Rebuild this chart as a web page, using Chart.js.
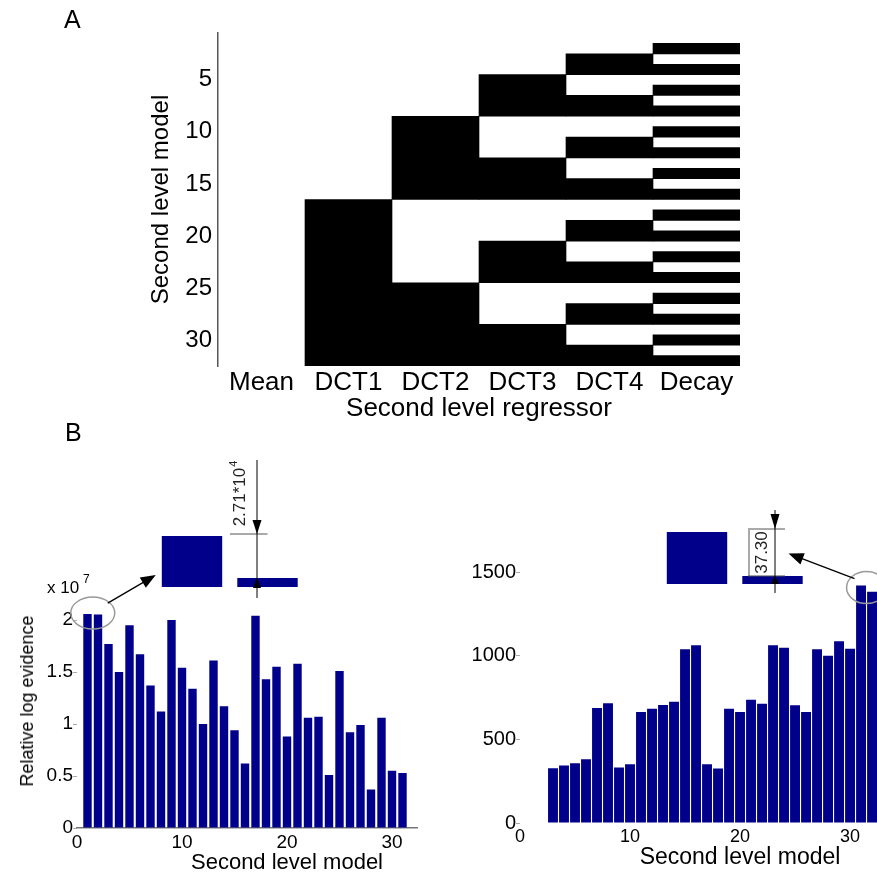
<!DOCTYPE html>
<html>
<head>
<meta charset="utf-8">
<script src="https://cdn.jsdelivr.net/npm/chart.js@4.4.1/dist/chart.umd.min.js"></script>
<style>
  html, body { margin: 0; padding: 0; background: #fff; overflow: hidden; }
  #page { position: relative; width: 877px; height: 872px; font-family: 'Liberation Sans', Arial, sans-serif; color: #000; }
  canvas { position: absolute; }
  .txt { position: absolute; white-space: nowrap; line-height: 1; }
  .rot { transform: translate(-50%, -50%) rotate(-90deg); }
  .mid { transform: translate(-50%, -50%); }
</style>
</head>
<body>
<div id="page">
  <canvas id="matrixChart" width="877" height="424" style="left:0;top:0"></canvas>
  <canvas id="leftChart" width="440" height="432" style="left:0;top:440px"></canvas>
  <canvas id="rightChart" width="437" height="432" style="left:440px;top:440px"></canvas>
  <canvas id="leftInset" width="180" height="155" style="left:140px;top:450px"></canvas>
  <canvas id="rightInset" width="237" height="115" style="left:640px;top:490px"></canvas>

  <div class="txt" style="left:64px;top:7px;font-size:25px">A</div>
  <div class="txt" style="left:65px;top:420px;font-size:25px">B</div>
  <div class="txt" style="left:47px;top:579px;font-size:17px">x 10</div>
  <div class="txt" style="left:83px;top:573px;font-size:12px">7</div>
  <div class="txt rot" style="left:27px;top:701px;font-size:18px">Relative log evidence</div>
  <div class="txt mid" style="left:287px;top:862px;font-size:22px">Second level model</div>
  <div class="txt mid" style="left:740px;top:856px;font-size:23px">Second level model</div>
</div>
<script>
Chart.defaults.font.family = "'Liberation Sans', Arial, sans-serif";
Chart.defaults.color = '#000';

// panel A: which regressors each second level model contains (1 = black)
const regressorNames = ['Mean', 'DCT1', 'DCT2', 'DCT3', 'DCT4', 'Decay'];
const designMatrix = [
  '000000', '000001', '000010', '000011', '000100', '000101', '000110', '000111',
  '001000', '001001', '001010', '001011', '001100', '001101', '001110', '001111',
  '010000', '010001', '010010', '010011', '010100', '010101', '010110', '010111',
  '011000', '011001', '011010', '011011', '011100', '011101', '011110', '011111'
];
const modelTicks = [5, 10, 15, 20, 25, 30];

// panel B, left: relative log evidence (x 10^7), models 1..31
const leftEvidence = [2.057, 2.054, 1.77, 1.50, 1.95, 1.67, 1.37, 1.12, 2.00, 1.54,
  1.34, 1.00, 1.61, 1.17, 0.94, 0.62, 2.04, 1.43, 1.55, 0.88,
  1.58, 1.06, 1.07, 0.51, 1.51, 0.92, 0.99, 0.37, 1.06, 0.55, 0.53];
const evidenceTicks = [0, 0.5, 1, 1.5, 2];
const modelAxisTicks = [0, 10, 20, 30];

// panel B, right: models 3..32
const rightFirstModel = 3;
const rightEvidence = [327, 343, 357, 381, 688, 716, 331, 351, 663, 683,
  706, 724, 1038, 1062, 351, 325, 683, 663, 736, 712,
  1062, 1048, 704, 663, 1038, 1000, 1087, 1042, 1419, 1381.7];
const rightEvidenceTicks = [0, 500, 1000, 1500];

// zoomed insets (two best models)
const leftInsetBars = [20571000, 20543900];
const leftInsetRange = [20538100, 20571000];
const rightInsetBars = [1419.0, 1381.7];
const rightInsetRange = [1374.9, 1419.0];

const BAR_BLUE = '#00008b';
const plainLabel = v => String(v);

function baseOptions() {
  return {
    responsive: false,
    animation: false,
    devicePixelRatio: 1,
    plugins: { legend: { display: false }, tooltip: { enabled: false } }
  };
}

function drawHead(ctx, x, y, a, len, halfW) {
  ctx.beginPath();
  ctx.moveTo(x, y);
  ctx.lineTo(x - len * Math.cos(a) + halfW * Math.sin(a), y - len * Math.sin(a) - halfW * Math.cos(a));
  ctx.lineTo(x - len * Math.cos(a) - halfW * Math.sin(a), y - len * Math.sin(a) + halfW * Math.cos(a));
  ctx.closePath();
  ctx.fill();
}

function drawArrow(ctx, x0, y0, x1, y1, len, halfW) {
  const a = Math.atan2(y1 - y0, x1 - x0);
  ctx.beginPath();
  ctx.moveTo(x0, y0);
  ctx.lineTo(x1 - (len - 2) * Math.cos(a), y1 - (len - 2) * Math.sin(a));
  ctx.stroke();
  drawHead(ctx, x1, y1, a, len, halfW);
}

function line(ctx, x0, y0, x1, y1) {
  ctx.beginPath();
  ctx.moveTo(x0, y0);
  ctx.lineTo(x1, y1);
  ctx.stroke();
}

// ---- panel A: design matrix as floating bars, one per run of black cells
const cells = [];
regressorNames.forEach((name, c) => {
  let start = null;
  designMatrix.forEach((row, r) => {
    const on = row[c] === '1';
    if (on && start === null) start = r + 1;
    if (start !== null && (!on || r === designMatrix.length - 1)) {
      const end = on ? r + 1 : r;
      cells.push({ x: name, y: [start - 0.5, end + 0.5] });
      start = null;
    }
  });
});

new Chart(document.getElementById('matrixChart'), {
  type: 'bar',
  data: {
    labels: regressorNames,
    datasets: [{ data: cells, backgroundColor: '#000', borderWidth: 0, barPercentage: 1, categoryPercentage: 1 }]
  },
  options: Object.assign(baseOptions(), {
    layout: { autoPadding: false, padding: { left: 0, top: 33, right: 137, bottom: 0 } },
    scales: {
      x: {
        type: 'category', offset: true,
        grid: { display: false, drawTicks: false },
        border: { display: false },
        ticks: { font: { size: 26 }, padding: 1, autoSkip: false, maxRotation: 0, minRotation: 0 },
        title: { display: true, text: 'Second level regressor', font: { size: 26 }, padding: 0 },
        afterFit: s => { s.height = 58; }
      },
      y: {
        type: 'linear', reverse: true, min: 0.5, max: 32.5,
        grid: { display: false, drawTicks: false },
        border: { display: true, color: '#555', width: 1.5 },
        afterBuildTicks: s => { s.ticks = modelTicks.map(v => ({ value: v })); },
        ticks: { font: { size: 24 }, padding: 6, callback: plainLabel },
        title: { display: true, text: 'Second level model', font: { size: 24 }, padding: { top: 146.6, bottom: 0 } },
        afterFit: s => { s.width = 218; }
      }
    }
  })
});

// ---- panel B left
const leftData = leftEvidence.map((v, i) => ({ x: i + 1, y: v }));

new Chart(document.getElementById('leftChart'), {
  type: 'bar',
  data: { datasets: [{ data: leftData, backgroundColor: BAR_BLUE, borderWidth: 0, barPercentage: 0.8, categoryPercentage: 1 }] },
  options: Object.assign(baseOptions(), {
    layout: { autoPadding: false, padding: { left: 0, top: 164.4, right: 22.8, bottom: 0 } },
    scales: {
      x: {
        type: 'linear', min: 0, max: 32.4, offset: false,
        grid: { display: false, drawTicks: false, offset: false },
        border: { display: true, color: '#777', width: 1.5 },
        afterBuildTicks: s => { s.ticks = modelAxisTicks.map(v => ({ value: v })); },
        ticks: { font: { size: 19 }, padding: 3, maxRotation: 0, autoSkip: false, callback: plainLabel },
        afterFit: s => { s.height = 44; }
      },
      y: {
        min: 0, max: 2.15,
        grid: { display: true, drawOnChartArea: false, drawTicks: true, tickLength: 4, color: '#aaa' },
        border: { display: false },
        afterBuildTicks: s => { s.ticks = evidenceTicks.map(v => ({ value: v })); },
        ticks: { font: { size: 19 }, padding: 0, callback: plainLabel },
        afterFit: s => { s.width = 77; }
      }
    }
  }),
  plugins: [{
    id: 'leftMarker',
    afterDraw(chart) {
      const ctx = chart.ctx, xs = chart.scales.x, ys = chart.scales.y;
      const cx = (xs.getPixelForValue(1) + xs.getPixelForValue(2)) / 2;
      const cy = ys.getPixelForValue(leftEvidence[0]) - 1;
      ctx.save();
      ctx.strokeStyle = '#999';
      ctx.lineWidth = 1.5;
      ctx.beginPath();
      ctx.ellipse(cx, cy, 22, 16, 0, 0, Math.PI * 2);
      ctx.stroke();
      ctx.strokeStyle = '#000';
      ctx.fillStyle = '#000';
      ctx.lineWidth = 1.3;
      drawArrow(ctx, cx + 15, cy - 10, cx + 63, cy - 38, 15, 6);
      ctx.restore();
    }
  }]
});

// ---- panel B right
const rightData = rightEvidence.map((v, i) => ({ x: rightFirstModel + i, y: v }));

new Chart(document.getElementById('rightChart'), {
  type: 'bar',
  data: { datasets: [{ data: rightData, backgroundColor: BAR_BLUE, borderWidth: 0, barPercentage: 0.9, categoryPercentage: 1 }] },
  options: Object.assign(baseOptions(), {
    layout: { autoPadding: false, padding: { left: 0, top: 115.3, right: 0, bottom: 0 } },
    scales: {
      x: {
        type: 'linear', min: 0, max: 32.45, offset: false,
        grid: { display: false, drawTicks: false, offset: false },
        border: { display: false },
        afterBuildTicks: s => { s.ticks = modelAxisTicks.map(v => ({ value: v })); },
        ticks: { font: { size: 18 }, padding: 3, maxRotation: 0, autoSkip: false, callback: plainLabel },
        afterFit: s => { s.height = 49; }
      },
      y: {
        min: 0, max: 1600,
        grid: { display: true, drawOnChartArea: false, drawTicks: true, tickLength: 4, color: '#aaa' },
        border: { display: false },
        afterBuildTicks: s => { s.ticks = rightEvidenceTicks.map(v => ({ value: v })); },
        ticks: { font: { size: 20 }, padding: 0, callback: plainLabel },
        afterFit: s => { s.width = 80; }
      }
    }
  }),
  plugins: [{
    id: 'rightMarker',
    afterDraw(chart) {
      const ctx = chart.ctx, xs = chart.scales.x, ys = chart.scales.y;
      const n = rightEvidence.length;
      const cx = (xs.getPixelForValue(rightFirstModel + n - 2) + xs.getPixelForValue(rightFirstModel + n - 1)) / 2;
      const cy = ys.getPixelForValue(rightEvidence[n - 2]) + 2;
      ctx.save();
      ctx.strokeStyle = '#999';
      ctx.lineWidth = 1.5;
      ctx.beginPath();
      ctx.ellipse(cx, cy, 20, 16, 0, 0, Math.PI * 2);
      ctx.stroke();
      ctx.strokeStyle = '#000';
      ctx.fillStyle = '#000';
      ctx.lineWidth = 1.3;
      drawArrow(ctx, cx - 12, cy - 9, cx - 78, cy - 34, 15, 6);
      ctx.restore();
    }
  }]
});

// ---- insets
function insetChart(id, bars, range, padding, annotate) {
  return new Chart(document.getElementById(id), {
    type: 'bar',
    data: {
      labels: ['best', 'second'],
      datasets: [{ data: bars, base: range[0], clip: 0, backgroundColor: BAR_BLUE, borderWidth: 0, barPercentage: 0.8, categoryPercentage: 1 }]
    },
    options: Object.assign(baseOptions(), {
      layout: { autoPadding: false, padding },
      scales: {
        x: { display: false },
        y: { display: false, min: range[0], max: range[1] }
      }
    }),
    plugins: [{ id: id + 'Notes', afterDraw: annotate }]
  });
}

function rotatedText(ctx, x, y, main, sup, size) {
  ctx.save();
  ctx.translate(x, y);
  ctx.rotate(-Math.PI / 2);
  ctx.font = size + "px 'Liberation Sans', Arial, sans-serif";
  ctx.textBaseline = 'middle';
  ctx.textAlign = 'left';
  const w = ctx.measureText(main).width;
  let supW = 0;
  if (sup) {
    ctx.font = Math.round(size * 0.65) + "px 'Liberation Sans', Arial, sans-serif";
    supW = ctx.measureText(sup).width;
  }
  const x0 = -(w + supW) / 2;
  ctx.font = size + "px 'Liberation Sans', Arial, sans-serif";
  ctx.fillText(main, x0, 0);
  if (sup) {
    ctx.font = Math.round(size * 0.65) + "px 'Liberation Sans', Arial, sans-serif";
    ctx.fillText(sup, x0 + w + 1, -size * 0.35);
  }
  ctx.restore();
}

insetChart('leftInset', leftInsetBars, leftInsetRange, { left: 14.25, right: 14.75, top: 86, bottom: 18 }, chart => {
  const ctx = chart.ctx;
  const [big, small] = chart.getDatasetMeta(0).data;
  const vx = small.x - 10.5;
  const topY = big.y - 2;
  ctx.save();
  ctx.fillStyle = '#000';
  ctx.strokeStyle = '#555';
  ctx.lineWidth = 1;
  line(ctx, small.x - 37.5, topY, small.x, topY);
  ctx.strokeStyle = '#000';
  line(ctx, vx, 10, vx, small.y + 20);
  drawHead(ctx, vx, topY, Math.PI / 2, 14, 4.5);
  drawHead(ctx, vx, small.y, -Math.PI / 2, 10, 4);
  ctx.fillStyle = '#222';
  rotatedText(ctx, vx - 17, big.y - 42, '2.71*10', '4', 17);
  ctx.restore();
});

insetChart('rightInset', rightInsetBars, rightInsetRange, { left: 19.25, right: 66.75, top: 42, bottom: 21 }, chart => {
  const ctx = chart.ctx;
  const [big, small] = chart.getDatasetMeta(0).data;
  const vx = small.x + 2.5;
  const topY = big.y - 3;
  ctx.save();
  ctx.fillStyle = '#000';
  ctx.strokeStyle = '#555';
  ctx.lineWidth = 1;
  line(ctx, small.x - 24.5, topY, small.x + 12.5, topY);
  line(ctx, small.x - 24.5, small.y, small.x + 12.5, small.y);
  line(ctx, small.x - 23.5, topY + 1, small.x - 23.5, small.y);
  ctx.strokeStyle = '#000';
  line(ctx, vx, 20, vx, small.y + 17);
  drawHead(ctx, vx, topY, Math.PI / 2, 15, 4.5);
  drawHead(ctx, vx, small.y, -Math.PI / 2, 8, 4);
  ctx.fillStyle = '#222';
  rotatedText(ctx, small.x - 10.5, (topY + small.y) / 2, '37.30', null, 17);
  ctx.restore();
});
</script>
</body>
</html>
